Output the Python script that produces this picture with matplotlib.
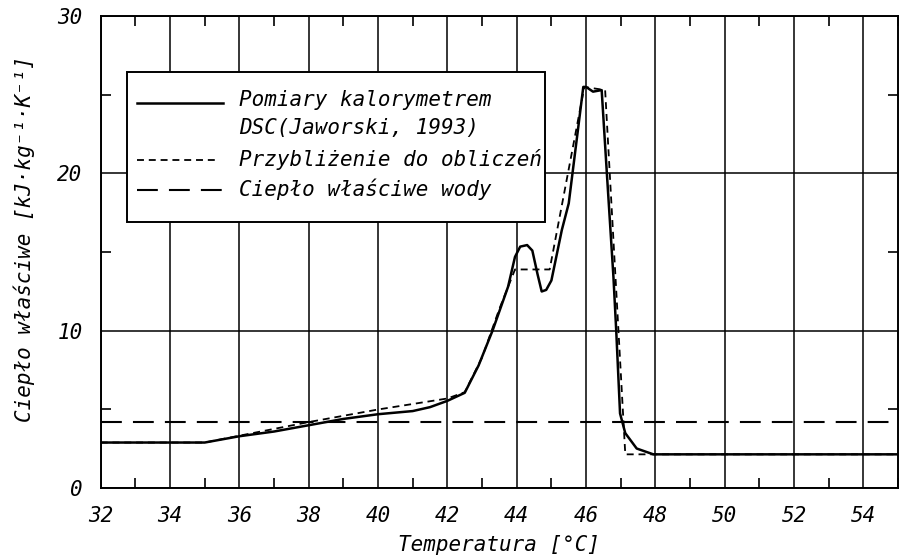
import matplotlib
matplotlib.use("Agg")
import matplotlib.pyplot as plt
from matplotlib.patches import Rectangle
from matplotlib.ticker import MultipleLocator

plt.rcParams['font.family'] = ['DejaVu Sans Mono', 'DejaVu Sans']
plt.rcParams['font.style'] = 'oblique'
plt.rcParams['lines.scale_dashes'] = False

# measured curve (DSC)
t_meas = [32, 35, 35.5, 36, 37, 38, 39, 40, 41, 41.5, 42, 42.5, 42.9, 43.3,
          43.75, 43.95, 44.1, 44.3, 44.45, 44.6, 44.72, 44.85, 45.0, 45.3,
          45.5, 45.92, 46.0, 46.2, 46.45, 46.6, 46.79, 46.87, 46.98, 47.13,
          47.46, 47.94, 55]
c_meas = [2.9, 2.9, 3.1, 3.3, 3.6, 4.0, 4.4, 4.7, 4.9, 5.15, 5.55, 6.06, 7.8,
          10.0, 12.8, 14.7, 15.35, 15.45, 15.1, 13.6, 12.5, 12.6, 13.2, 16.4,
          18.1, 25.5, 25.5, 25.2, 25.3, 20.0, 13.4, 10.0, 4.75, 3.5,
          2.52, 2.15, 2.15]

# approximation used in calculations
t_appr = [32, 35, 38, 40, 42, 42.5, 43.0, 43.5, 43.95, 44.0, 44.95, 45.95,
          46.55, 47.13, 47.13, 55]
c_appr = [2.9, 2.9, 4.2, 5.0, 5.7, 6.1, 8.3, 11.4, 13.9, 13.9, 13.9, 25.5,
          25.3, 2.2, 2.15, 2.15]

# specific heat of water
t_water = [32, 55]
c_water = [4.19, 4.19]

fig = plt.figure(figsize=(8.99, 5.56), dpi=100)
ax = fig.add_axes([0.112, 0.122, 0.887, 0.849])

ax.plot(t_water, c_water, color='black', lw=1.5, dashes=[15, 8])
ax.plot(t_appr, c_appr, color='black', lw=1.3, dashes=[5, 3.5])
ax.plot(t_meas, c_meas, color='black', lw=1.8)

ax.set_xlim(32, 55)
ax.set_ylim(0, 30)
ax.xaxis.set_major_locator(MultipleLocator(2))
ax.xaxis.set_minor_locator(MultipleLocator(1))
ax.yaxis.set_major_locator(MultipleLocator(10))
ax.yaxis.set_minor_locator(MultipleLocator(5))
ax.grid(True, which='major', color='black', lw=1.1)
ax.tick_params(which='major', length=0, labelsize=15, pad=13)
ax.tick_params(which='minor', direction='in', length=7, width=1.2,
               top=True, right=True)
for s in ax.spines.values():
    s.set_linewidth(1.4)

ax.set_xlabel('Temperatura [°C]', fontsize=15, labelpad=6)
fig.text(0.027, 0.57, 'Ciepło właściwe [kJ·kg⁻¹·K⁻¹]', rotation=90,
         fontsize=15, ha='center', va='center')

# legend box
ax.add_patch(Rectangle((0.0326, 0.5636), 0.5244, 0.3174, transform=ax.transAxes,
                       facecolor='white', edgecolor='black', lw=1.4, zorder=5))
ax.plot([0.045, 0.153], [0.8157, 0.8157], transform=ax.transAxes,
        color='black', lw=1.8, zorder=6)
ax.plot([0.045, 0.148], [0.695, 0.695], transform=ax.transAxes,
        color='black', lw=1.3, dashes=[5, 3.5], zorder=6)
ax.plot([0.045, 0.153], [0.631, 0.631], transform=ax.transAxes,
        color='black', lw=1.5, dashes=[15, 8], zorder=6)
labels = ['Pomiary kalorymetrem', 'DSC(Jaworski, 1993)',
          'Przybliżenie do obliczeń', 'Ciepło właściwe wody']
ypos = [0.822, 0.763, 0.697, 0.633]
for lab, yy in zip(labels, ypos):
    ax.text(0.174, yy, lab, transform=ax.transAxes, fontsize=15,
            va='center', ha='left', zorder=7)

fig.savefig('out.png', dpi=100)
